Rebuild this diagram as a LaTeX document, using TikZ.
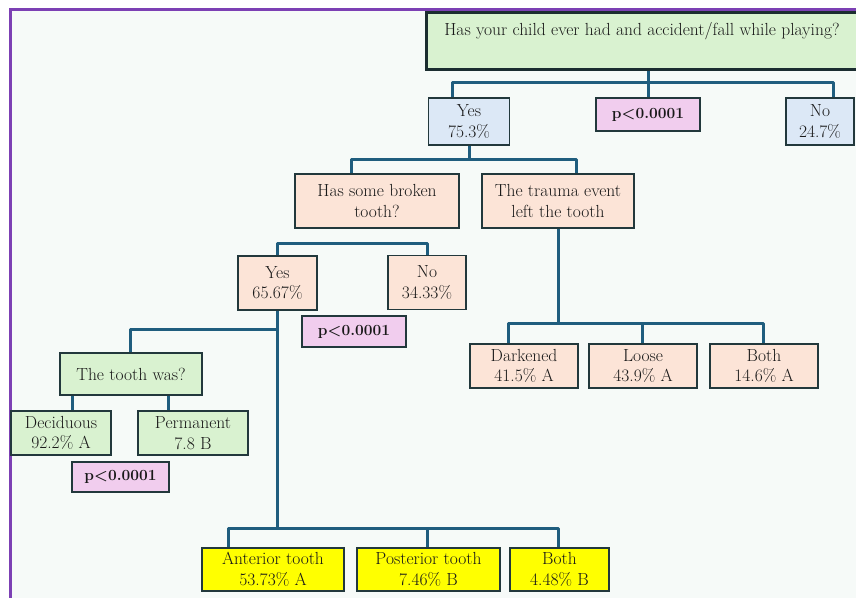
\documentclass[tikz,border=0pt]{standalone}
\usepackage{fontspec}
\setmainfont{Latin Modern Roman}
\definecolor{linkblue}{HTML}{1F5D7E}
\definecolor{boxline}{HTML}{22383C}
\definecolor{qgreen}{HTML}{D9F2D0}
\definecolor{qblue}{HTML}{DCE8F6}
\definecolor{qpink}{HTML}{F1CDEE}
\definecolor{qpeach}{HTML}{FCE4D7}
\definecolor{qyellow}{HTML}{FFFF00}
\definecolor{paper}{HTML}{F6FAF8}
\definecolor{frame}{HTML}{7C40B4}
\newcommand\boxfont{\fontsize{17.5}{20.5}\selectfont}
\newcommand\pfont{\fontsize{15.5}{18}\selectfont\bfseries}
\tikzset{
  box/.style={draw=boxline, line width=1.4pt, align=center, font=\boxfont, text=black!90, inner sep=1pt},
  pbox/.style={box, fill=qpink, font=\pfont},
  link/.style={draw=linkblue, line width=3pt, line join=round}
}

\begin{document}
\begin{tikzpicture}[x=1pt,y=-1pt]
\clip (0,0) rectangle (856,597);
\fill[white] (0,0) rectangle (856,597);
\fill[paper] (10,9) rectangle (860,600);
\draw[frame, line width=3pt] (10,600) -- (10,9) -- (860,9);

% question and first answer
\node[box, fill=qgreen, line width=3pt, draw=boxline!80!black, minimum width=432pt, minimum height=57pt,
  inner ysep=0pt, text height=23.5pt, text depth=33.5pt] (acc) at (642,40.5)
  {Has your child ever had and accident/fall while playing?};
\node[box, fill=qblue, minimum width=81pt, minimum height=47pt] (yes1) at (469,121.5) {Yes\\75.3\%};
\node[pbox, minimum width=104pt, minimum height=33pt] (p1) at (648,114.5) {p<0.0001};
\node[box, fill=qblue, minimum width=68pt, minimum height=47pt] (no1) at (820,121.5) {No\\24.7\%};

% second level
\node[box, fill=qpeach, minimum width=164pt, minimum height=54pt] (broken) at (377,201) {Has some broken\\tooth?};
\node[box, fill=qpeach, minimum width=152pt, minimum height=54pt] (trauma) at (558,201) {The trauma event\\left the tooth};

\node[box, fill=qpeach, minimum width=79pt, minimum height=54pt] (yes2) at (277.5,283) {Yes\\65.67\%};
\node[box, fill=qpeach, minimum width=78pt, minimum height=54pt] (no2) at (427,282.5) {No\\34.33\%};
\node[pbox, minimum width=104pt, minimum height=31pt] (p2) at (354,331.5) {p<0.0001};

\node[box, fill=qpeach, minimum width=108pt, minimum height=44pt] (dark) at (524,366) {Darkened\\41.5\% A};
\node[box, fill=qpeach, minimum width=108pt, minimum height=44pt] (loose) at (643,366) {Loose\\43.9\% A};
\node[box, fill=qpeach, minimum width=108pt, minimum height=44pt] (both1) at (764,366) {Both\\14.6\% A};

% broken tooth branch
\node[box, fill=qgreen, minimum width=142pt, minimum height=42pt] (toothwas) at (131,374) {The tooth was?};
\node[box, fill=qgreen, minimum width=100pt, minimum height=44pt] (decid) at (61,433) {Deciduous\\92.2\% A};
\node[box, fill=qgreen, minimum width=110pt, minimum height=44pt] (perm) at (193,433) {Permanent\\7.8 B};
\node[pbox, minimum width=97pt, minimum height=30pt] (p3) at (120.5,477) {p<0.0001};

\node[box, fill=qyellow, minimum width=142pt, minimum height=43pt] (ant) at (273,569.5) {Anterior tooth\\53.73\% A};
\node[box, fill=qyellow, minimum width=143pt, minimum height=43pt] (post) at (428.5,569.5) {Posterior tooth\\7.46\% B};
\node[box, fill=qyellow, minimum width=99pt, minimum height=43pt] (both2) at (559.5,569.5) {Both\\4.48\% B};

% connectors
\coordinate (b1l) at (452,82);
\coordinate (b1r) at (833,82);
\draw[link] (p1.north |- acc.south) -- (p1.north);
\draw[link] (yes1.north -| b1l) |- (b1r) -- (no1.north -| b1r);

\coordinate (b2l) at (351,159);
\coordinate (b2r) at (576,159);
\draw[link] (yes1.south) -- (yes1.south |- b2l);
\draw[link] (broken.north -| b2l) |- (b2r) -- (trauma.north -| b2r);

\coordinate (b3l) at (277,243);
\coordinate (b3r) at (427,243);
\draw[link] (yes2.north -| b3l) |- (b3r) -- (no2.north -| b3r);

\coordinate (b4l) at (508,323);
\coordinate (b4m) at (642,323);
\coordinate (b4r) at (763,323);
\draw[link] (trauma.south) -- (trauma.south |- b4l);
\draw[link] (dark.north -| b4l) |- (b4r) -- (both1.north -| b4r);
\draw[link] (b4m) -- (loose.north -| b4m);

\coordinate (b5) at (130,329);
\draw[link] (toothwas.north -| b5) |- (yes2.south |- b5);

\coordinate (b7l) at (72,395);
\coordinate (b7r) at (168,395);
\draw[link] (toothwas.south -| b7l) -- (decid.north -| b7l);
\draw[link] (toothwas.south -| b7r) -- (perm.north -| b7r);

\coordinate (b6l) at (228,528);
\coordinate (b6m) at (427,528);
\coordinate (b6r) at (558,528);
\draw[link] (yes2.south) -- (yes2.south |- b6l);
\draw[link] (ant.north -| b6l) |- (b6r) -- (both2.north -| b6r);
\draw[link] (b6m) -- (post.north -| b6m);
\end{tikzpicture}
\end{document}
